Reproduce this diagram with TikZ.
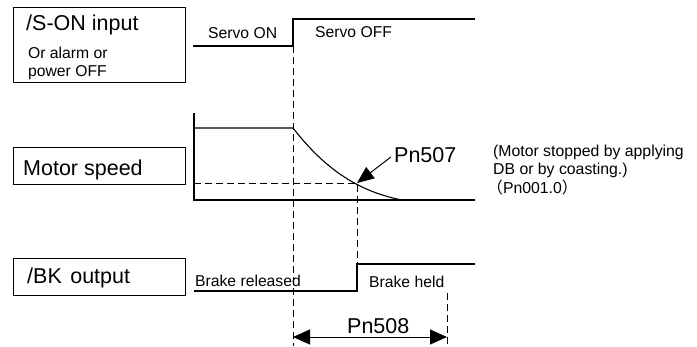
\documentclass[tikz,border=0pt]{standalone}
\usepackage{fontspec}
\setmainfont{Liberation Sans}
\newfontfamily\cjk{Noto Sans CJK SC}
\usetikzlibrary{arrows.meta}
\begin{document}
\begin{tikzpicture}[x=1pt,y=-1pt,
  sig/.style={line width=1.1pt, line join=miter},
  dsh/.style={line width=1pt, dash pattern=on 7pt off 4pt},
  lbox/.style={draw, line width=1pt, minimum width=172pt, inner sep=0pt, anchor=north west},
  big/.style={font=\fontsize{21.5}{25}\selectfont, inner sep=0pt, anchor=base west},
  small/.style={font=\fontsize{15.7}{19}\selectfont, inner sep=0pt, anchor=base west},
  note/.style={font=\fontsize{15.8}{19}\selectfont, inner sep=0pt, anchor=base west},
  tri/.style={line width=1pt, -{Triangle[length=17pt,width=14pt]}},
  dtri/.style={line width=1pt, {Triangle[length=17pt,width=15pt]}-{Triangle[length=17pt,width=15pt]}}]
\useasboundingbox (0,0) rectangle (697,346);

% label boxes
\node[lbox, minimum height=75pt] (sonbox) at (13,7) {};
\node[lbox, minimum height=37pt] (motbox) at (13,147) {};
\node[lbox, minimum height=37pt] (bkbox) at (13,258) {};

\node[big] (sontxt) at (26,30) {/S-ON input};
\node[small] (alarm1) at (28,58.5) {Or alarm or};
\node[small] (alarm2) at (28,76.5) {power OFF};
\node[big] (mottxt) at (23,175) {Motor speed};
\node[big] (bktxt) at (27,283) {/BK\hspace{2.5pt} output};

% key coordinates
\coordinate (t1) at (293,46);
\coordinate (t2) at (357,183);
\coordinate (t3) at (447,293);

% /S-ON waveform
\draw[sig] (193,46) -- (t1) -- (293,19) -- (475,19);
\node[small] (servoon) at (208,38) {Servo ON};
\node[small] (servooff) at (315,37.5) {Servo OFF};

% motor speed waveform
\draw[sig] (194,113) -- (194,200) -- (475,200);
\draw[sig] (194,128) -- (293,128) .. controls (318,160) and (350,190) .. (402,200);

% BK waveform
\draw[sig] (194,291) -- (357,291) -- (357,264) -- (475,264);
\node[small] (brel) at (195,286.5) {Brake released};
\node[small] (bheld) at (369,287) {Brake held};

% dashed guides
\draw[dsh] (t1) -- (293,346);
\draw[dsh] (194,183) -- (t2) -- (357,264);
\draw[dsh] (t3) -- (447,346);

% Pn507
\node[big] (pn507) at (394,162) {Pn507};
\draw[tri, shorten <=4pt] (pn507.west) -- (t2);

% notes
\node[note] (n1) at (493,156) {(Motor stopped by applying};
\node[note] (n2) at (493,174.5) {DB or by coasting.)};
\node[note] (n3) at (487,193) {{\cjk （}Pn001.0{\cjk ）}};

% Pn508
\coordinate (a508) at (293,337);
\coordinate (b508) at (447,337);
\draw[dtri] (a508) -- (b508);
\node[big] (pn508) at (347,333) {Pn508};
\end{tikzpicture}
\end{document}
